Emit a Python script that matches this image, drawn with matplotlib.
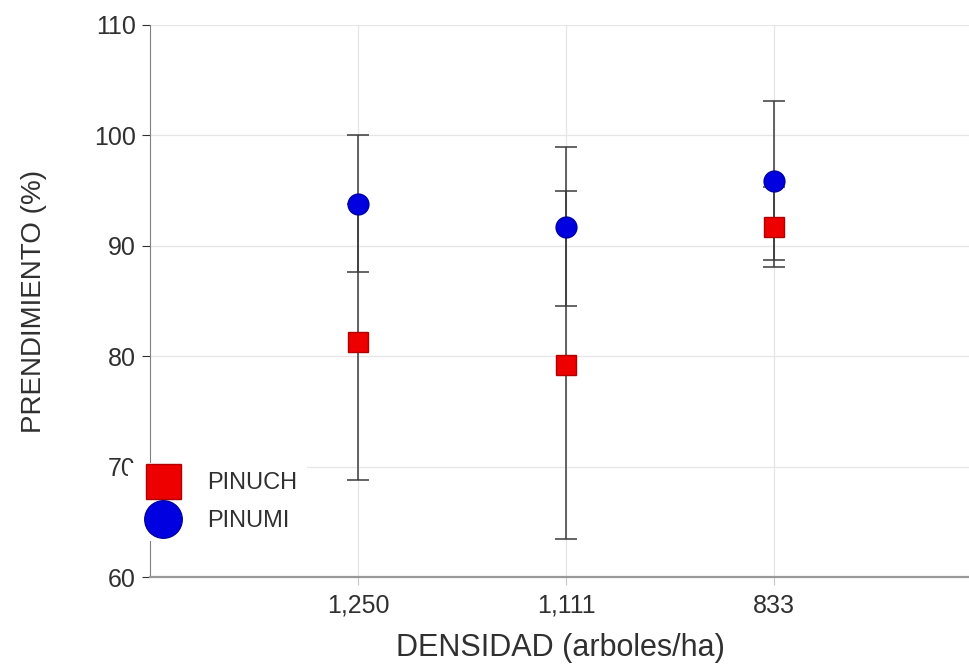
import numpy as np
import matplotlib
matplotlib.use('Agg')
import matplotlib.pyplot as plt

plt.rcParams['font.family'] = ['Liberation Sans', 'DejaVu Sans']

# datos
densidad = ['1,250', '1,111', '833']
pinuch = [81.3, 79.2, 91.7]
pinuch_err = [12.5, 15.8, 3.6]
pinumi = [93.8, 91.7, 95.9]
pinumi_err = [6.2, 7.2, 7.2]

x = np.arange(1, len(densidad) + 1)

fig = plt.figure(figsize=(9.70, 6.66), dpi=100)
ax = fig.add_axes([0.1546, 0.1336, 0.8454, 0.829])

# barras de error primero, marcadores encima
ax.errorbar(x, pinumi, yerr=pinumi_err, fmt='none', ecolor='#3a3a3a',
            elinewidth=1.1, capsize=8, capthick=1.1, zorder=3)
ax.errorbar(x, pinuch, yerr=pinuch_err, fmt='none', ecolor='#3a3a3a',
            elinewidth=1.1, capsize=8, capthick=1.1, zorder=3)
ax.plot(x, pinuch, 's', color='#ee0000', markeredgecolor='#b00000',
        markersize=14, zorder=4, label='PINUCH')
ax.plot(x, pinumi, 'o', color='#0000e0', markeredgecolor='#0000a0',
        markersize=15, zorder=5, label='PINUMI')

ax.set_xlim(0, 3.94)
ax.set_ylim(60, 110)
ax.set_xticks(x)
ax.set_xticklabels(densidad)
ax.set_yticks(np.arange(60, 111, 10))
ax.tick_params(axis='both', labelsize=18, colors='#303030', length=6,
               width=0.8, pad=4)
ax.tick_params(axis='x', colors='#c8c8c8', labelcolor='#303030', pad=6)

ax.grid(True, color='#e6e6e6', linewidth=0.9, zorder=0)
ax.set_axisbelow(True)
for s in ['top', 'right']:
    ax.spines[s].set_visible(False)
ax.spines['left'].set_color('#808080')
ax.spines['bottom'].set_color('#9a9a9a')
ax.spines['bottom'].set_linewidth(1.6)

ax.set_xlabel('DENSIDAD (arboles/ha)', fontsize=22, color='#303030', labelpad=11)
ax.set_ylabel('PRENDIMIENTO (%)', fontsize=20, color='#303030', labelpad=34)

leg = ax.legend(loc='center left', bbox_to_anchor=(128 / 970, 1 - 502 / 666),
                bbox_transform=fig.transFigure, fontsize=17, markerscale=1.8,
                frameon=True, facecolor='white', edgecolor='none',
                framealpha=1, handletextpad=0.8, labelspacing=0.67,
                borderpad=0.4, borderaxespad=0, handlelength=2.17,
                fancybox=False)
leg.set_zorder(10)
for t in leg.get_texts():
    t.set_color('#303030')

fig.savefig('out.png', dpi=100)
